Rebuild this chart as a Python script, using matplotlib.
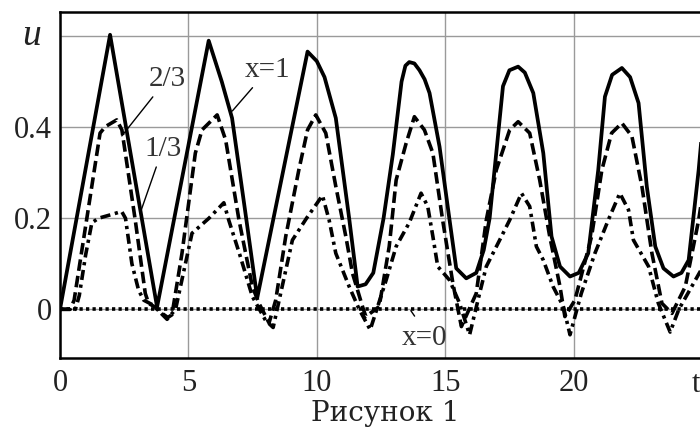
import numpy as np
import matplotlib.pyplot as plt

# u(t) at x = 1, 2/3, 1/3, 0
t_x1 = [0, 1.95, 3.78, 5.79, 6.3, 6.7, 7.2, 7.68, 9.64, 10.0, 10.3, 10.74, 11.26,
        11.59, 11.9, 12.2, 12.6, 12.96, 13.3, 13.45, 13.6, 13.8, 14.0, 14.2, 14.39,
        14.78, 15.17, 15.43, 15.82, 16.21, 16.5, 16.73, 17.0, 17.25, 17.5, 17.84,
        18.1, 18.43, 18.82, 19.14, 19.47, 19.86, 20.2, 20.57, 20.96, 21.22, 21.5,
        21.88, 22.2, 22.53, 22.85, 23.18, 23.5, 23.89, 24.2, 24.48, 24.87, 25.1]
u_x1 = [0, 0.603, 0.005, 0.59, 0.5, 0.42, 0.22, 0.025, 0.566, 0.545, 0.51, 0.42, 0.2,
        0.05, 0.055, 0.08, 0.2, 0.34, 0.5, 0.535, 0.543, 0.54, 0.525, 0.505, 0.475,
        0.357, 0.196, 0.09, 0.068, 0.08, 0.13, 0.2, 0.35, 0.49, 0.525, 0.533,
        0.52, 0.475, 0.343, 0.16, 0.094, 0.072, 0.08, 0.123, 0.306, 0.467, 0.515,
        0.53, 0.51, 0.453, 0.27, 0.138, 0.09, 0.072, 0.08, 0.108, 0.306, 0.45]

t_x23 = [0, 0.4, 0.55, 1.56, 1.76, 2.21, 2.41, 2.93, 3.32, 3.45, 3.7, 4.0, 4.2,
         4.36, 4.75, 5.27, 5.53, 6.05, 6.12, 6.45, 6.97, 7.49, 7.75, 8.14, 8.4,
         8.79, 9.3, 9.64, 9.96, 10.35, 10.74, 11.13, 11.39, 11.78, 11.91, 12.43,
         12.82, 13.09, 13.48, 13.8, 14.19, 14.52, 14.9, 15.3, 15.63, 16.21, 16.6,
         16.99, 17.51, 17.84, 18.29, 18.68, 19.07, 19.47, 19.66, 20.05, 20.7, 21.1,
         21.48, 21.88, 22.27, 22.66, 23.05, 23.44, 23.83, 24.35, 24.87, 25.1]
u_x23 = [0, 0, 0.02, 0.387, 0.401, 0.416, 0.394, 0.196, 0.035, 0.013, 0.005, -0.01,
         -0.018, -0.012, 0.123, 0.343, 0.394, 0.423, 0.427, 0.372, 0.196, 0.05,
         0.013, -0.03, 0.02, 0.16, 0.306, 0.394, 0.427, 0.387, 0.27, 0.16, 0.079,
         0.006, -0.016, 0.006, 0.138, 0.284, 0.365, 0.423, 0.394, 0.343, 0.196,
         0.057, -0.038, 0.035, 0.196, 0.306, 0.394, 0.412, 0.387, 0.284, 0.16, 0.05,
         -0.016, 0.02, 0.16, 0.306, 0.387, 0.409, 0.38, 0.27, 0.123, 0.013, -0.009,
         0.05, 0.196, 0.28]

t_x13 = [0, 0.6, 0.75, 1.0, 1.24, 1.5, 2.0, 2.4, 2.55, 2.8, 3.06, 3.26, 3.6, 4.17,
         4.5, 5.14, 5.4, 5.8, 6.38, 6.57, 7.0, 7.49, 8.0, 8.3, 9.05, 9.6, 10.22,
         10.48, 10.74, 11.26, 11.65, 12.08, 12.7, 13.09, 13.6, 14.06, 14.32, 14.52,
         14.71, 15.17, 15.56, 15.95, 16.34, 16.6, 17.12, 17.51, 17.97, 18.29, 18.55,
         18.82, 19.2, 19.6, 19.86, 20.3, 20.83, 21.35, 21.8, 22.14, 22.33, 22.92,
         23.3, 23.76, 24.1, 25.1]
u_x13 = [0, 0, 0.03, 0.12, 0.19, 0.2, 0.208, 0.215, 0.2, 0.1, 0.042, 0.02, 0.01,
         -0.022, 0.0, 0.167, 0.18, 0.2, 0.234, 0.196, 0.12, 0.028, -0.024, -0.04,
         0.152, 0.2, 0.25, 0.196, 0.123, 0.05, 0.0, -0.045, 0.064, 0.138, 0.19,
         0.255, 0.226, 0.16, 0.094, 0.064, 0.013, -0.056, 0.035, 0.094, 0.152,
         0.196, 0.255, 0.226, 0.138, 0.108, 0.05, 0.006, -0.056, 0.035, 0.123,
         0.196, 0.255, 0.218, 0.152, 0.094, 0.013, -0.05, 0.0, 0.1]

t_x0 = [0, 25]
u_x0 = [0, 0]

x_ticks = [0, 5, 10, 15, 20]
x_labels = ["0", "5", "10", "15", "20"]
y_ticks = [0, 0.2, 0.4, 0.6]
y_labels = ["0", "0.2", "0.4", ""]

serif = ["Liberation Serif", "DejaVu Serif"]

fig = plt.figure(figsize=(7, 4.3), dpi=100)
ax = fig.add_axes([60 / 700, 1 - 358 / 430, 642 / 700, 346 / 430])

ax.plot(t_x1, u_x1, color="black", lw=2.7, solid_joinstyle="round", zorder=4)
ax.plot(t_x23, u_x23, color="black", lw=2.6, dashes=(3.2, 1.4), zorder=3)
ax.plot(t_x13, u_x13, color="black", lw=2.6, dashes=(2.8, 1.3, 0.9, 1.3), zorder=3)
ax.plot(t_x0, u_x0, color="black", lw=2.6, dashes=(0.9, 0.9), zorder=3)

ax.set_xlim(0, 25)
ax.set_ylim(-0.107, 0.653)
ax.set_xticks(x_ticks)
ax.set_xticklabels(x_labels)
ax.set_yticks(y_ticks)
ax.set_yticklabels(y_labels)
ax.tick_params(length=0, labelsize=22, labelcolor="#222222")
ax.tick_params(axis="y", pad=6)
ax.tick_params(axis="x", pad=8)
for lab in ax.get_xticklabels() + ax.get_yticklabels():
    lab.set_family(serif)
ax.grid(True, color="#9a9a9a", lw=1.0)
ax.set_axisbelow(True)
for side in ["left", "bottom", "top"]:
    ax.spines[side].set_linewidth(1.8)
ax.spines["right"].set_visible(False)

# axis names in place of the last tick labels
ax.text(-0.75, 0.6, "u", fontsize=27, style="italic", family=serif,
        ha="right", va="center", color="#222222")
ax.text(24.75, -0.165, "t", fontsize=22, family=serif,
        ha="center", va="center", color="#222222")

# curve labels with leader lines
lbl = dict(fontsize=21, family=serif, color="#333333", ha="center", va="center")
ln = dict(arrowstyle="-", color="black", lw=1.0)
ax.annotate("2/3", xy=(2.34, 0.376), xytext=(4.17, 0.506), arrowprops=ln, **lbl)
ax.annotate("1/3", xy=(3.12, 0.211), xytext=(4.0, 0.353), arrowprops=ln, **lbl)
ax.annotate("x=1", xy=(6.64, 0.431), xytext=(8.1, 0.526), arrowprops=ln, **lbl)
ax.annotate("", xy=(13.87, -0.02), xytext=(13.6, 0.002), arrowprops=ln)
ax.text(14.2, -0.062, "x=0", **lbl)

fig.text(385 / 700, 1 - 421 / 430, "Рисунок 1", fontsize=20, family="DejaVu Serif",
         ha="center", va="baseline", color="#222222")

fig.savefig("out.png", dpi=100)
